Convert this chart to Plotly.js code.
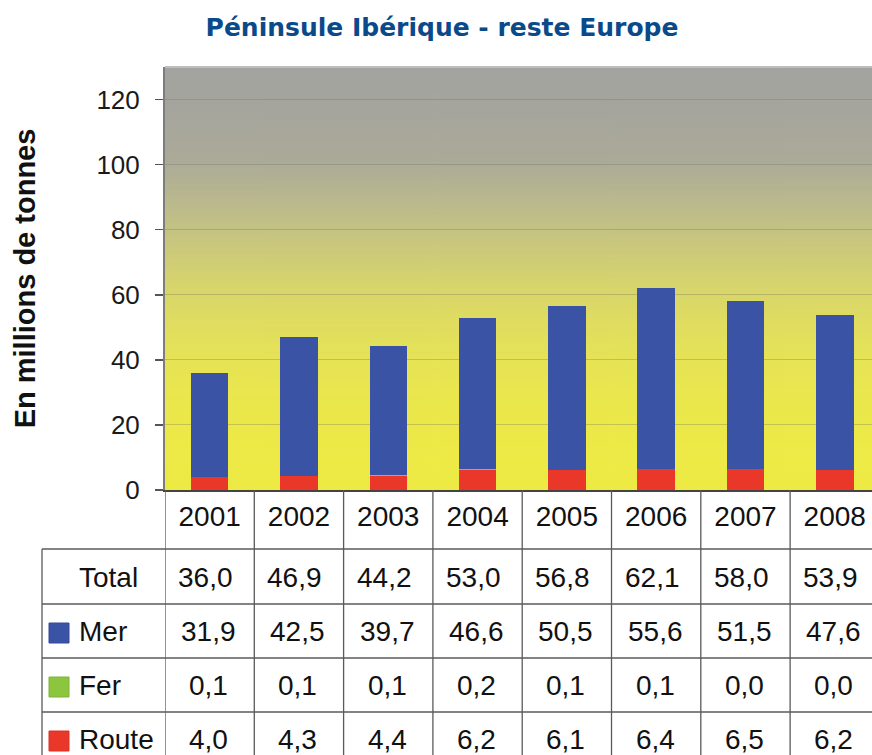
<!DOCTYPE html>
<html>
<head>
<meta charset="utf-8">
<script src="https://cdn.plot.ly/plotly-3.0.1.min.js"></script>
<style>html,body{margin:0;padding:0;background:#fff;}#chart{width:872px;height:755px;}</style>
</head>
<body>
<div id="chart"></div>
<script>
// ---- data ----
const years = ["2001","2002","2003","2004","2005","2006","2007","2008"];
const total = [36.0, 46.9, 44.2, 53.0, 56.8, 62.1, 58.0, 53.9];
const mer   = [31.9, 42.5, 39.7, 46.6, 50.5, 55.6, 51.5, 47.6];
const fer   = [0.1, 0.1, 0.1, 0.2, 0.1, 0.1, 0.0, 0.0];
const route = [4.0, 4.3, 4.4, 6.2, 6.1, 6.4, 6.5, 6.2];
const rowLabels = ["Total", "Mer", "Fer", "Route"];
const yTicks = [0, 20, 40, 60, 80, 100, 120];

// ---- styles ----
const colMer = "#3a53a5", colFer = "#8cc63e", colRoute = "#e9382a";
const W = 872, H = 755;
const M = {l: 165, r: 0, t: 67, b: 265};
const plotW = W - M.l - M.r, plotH = H - M.t - M.b;
const py = p => (H - M.b - p) / plotH;   // pixel row -> paper y
const px = p => (p - M.l) / plotW;       // pixel col -> paper x
const FONT = "Liberation Sans, Arial, Helvetica, sans-serif";

// gradient background image
function gradientURL() {
  const c = document.createElement("canvas");
  c.width = 4; c.height = plotH;
  const g = c.getContext("2d");
  const grd = g.createLinearGradient(0, 0, 0, plotH);
  const stops = [[67,"#a3a3a0"],[110,"#a5a59d"],[160,"#abaa98"],[200,"#b9b88e"],[240,"#c8c67e"],
                 [280,"#d5d36e"],[320,"#dfdc61"],[360,"#e6e356"],[400,"#eae74d"],[450,"#ede946"],[490,"#eeea44"]];
  stops.forEach(s => grd.addColorStop(Math.min(1, Math.max(0, (s[0] - M.t) / plotH)), s[1]));
  g.fillStyle = grd; g.fillRect(0, 0, 4, plotH);
  return c.toDataURL();
}

const traces = [
  {type: "bar", name: "Route", x: years, y: route, marker: {color: colRoute}, hoverinfo: "x+y+name"},
  {type: "bar", name: "Fer", x: years, y: fer, marker: {color: colFer}, hoverinfo: "x+y+name"},
  {type: "bar", name: "Mer", x: years, y: mer, marker: {color: colMer}, hoverinfo: "x+y+name"}
];

const fmt = v => v.toFixed(1).replace(".", ",");
const rows = [total, mer, fer, route];
const rowCenters = [577, 631, 685, 739];
const lineCol = "#5a5a5a";

const shapes = [];
const annotations = [];

// top border of plot
shapes.push({type: "line", xref: "paper", yref: "paper", x0: 0, x1: 1, y0: 1, y1: 1,
             line: {color: "#bdbdbd", width: 2}});

// table grid: vertical lines at category boundaries
for (let i = 0; i < years.length; i++) {
  shapes.push({type: "line", xref: "x", yref: "paper", x0: i - 0.5, x1: i - 0.5,
               y0: 0, y1: py(H + 5), line: {color: lineCol, width: 1.3}});
}
// left border of label column
shapes.push({type: "line", xref: "paper", yref: "paper", x0: px(42), x1: px(42),
             y0: py(549), y1: py(H + 5), line: {color: lineCol, width: 1.3}});
// horizontal lines
[549, 604, 658, 712].forEach(p => {
  shapes.push({type: "line", xref: "paper", yref: "paper", x0: px(42), x1: 1.01,
               y0: py(p), y1: py(p), line: {color: lineCol, width: 1.3}});
});

// row labels and legend squares
const sqColors = [null, colMer, colFer, colRoute];
const sqLines = [null, "#34499a", "#7fb33a", "#d63324"];
rowLabels.forEach((lab, r) => {
  annotations.push({xref: "paper", yref: "paper", x: px(77), y: py(rowCenters[r]),
                    xanchor: "left", yanchor: "middle", text: lab, showarrow: false,
                    font: {family: FONT, size: 28, color: "#111"}});
  if (sqColors[r]) {
    shapes.push({type: "rect", xref: "paper", yref: "paper",
                 x0: px(49), x1: px(69), y0: py(rowCenters[r] - 8), y1: py(rowCenters[r] + 12),
                 fillcolor: sqColors[r], line: {color: sqLines[r], width: 1}});
  }
});

// table values (x = category index on the x axis)
rows.forEach((vals, r) => {
  vals.forEach((v, i) => {
    annotations.push({xref: "x", yref: "paper", x: i, y: py(rowCenters[r]),
                      xanchor: "center", yanchor: "middle", xshift: r === 0 ? -4 : -1,
                      text: fmt(v), showarrow: false,
                      font: {family: FONT, size: 28, color: "#111"}});
  });
});

const layout = {
  width: W, height: H,
  margin: M,
  paper_bgcolor: "#ffffff",
  plot_bgcolor: "rgba(0,0,0,0)",
  showlegend: false,
  barmode: "stack",
  bargap: 0.58,
  title: {
    text: "Péninsule Ibérique - reste Europe",
    xref: "container", yref: "container", x: 442 / W, y: 1 - 27 / H,
    xanchor: "center", yanchor: "middle",
    font: {family: "DejaVu Sans, Verdana, sans-serif", size: 25, color: "#0b4a8a", weight: "bold"}
  },
  xaxis: {
    type: "category", range: [-0.5, 7.417],
    showline: true, linecolor: "#444", linewidth: 1.5,
    ticks: "", showgrid: false, zeroline: false,
    tickfont: {family: FONT, size: 28, color: "#111"},
    ticklabelstandoff: 1
  },
  yaxis: {
    range: [0, 130], tickvals: yTicks, ticktext: yTicks.map(String),
    showline: true, linecolor: "#7d7d7d", linewidth: 2,
    ticks: "outside", ticklen: 8, tickcolor: "#555", tickwidth: 1.5,
    showgrid: true, gridcolor: "rgba(105,105,90,0.3)", gridwidth: 1,
    zeroline: false,
    tickfont: {family: FONT, size: 26, color: "#1a1a1a"},
    ticklabelstandoff: 10,
    title: {text: "En millions de tonnes", standoff: 52,
            font: {family: FONT, size: 29, color: "#111", weight: "bold"}}
  },
  images: [{source: gradientURL(), xref: "paper", yref: "paper", x: 0, y: 1,
            sizex: 1, sizey: 1, sizing: "stretch", layer: "below",
            xanchor: "left", yanchor: "top"}],
  shapes: shapes,
  annotations: annotations
};

Plotly.newPlot("chart", traces, layout, {displayModeBar: false, staticPlot: true});
</script>
</body>
</html>
